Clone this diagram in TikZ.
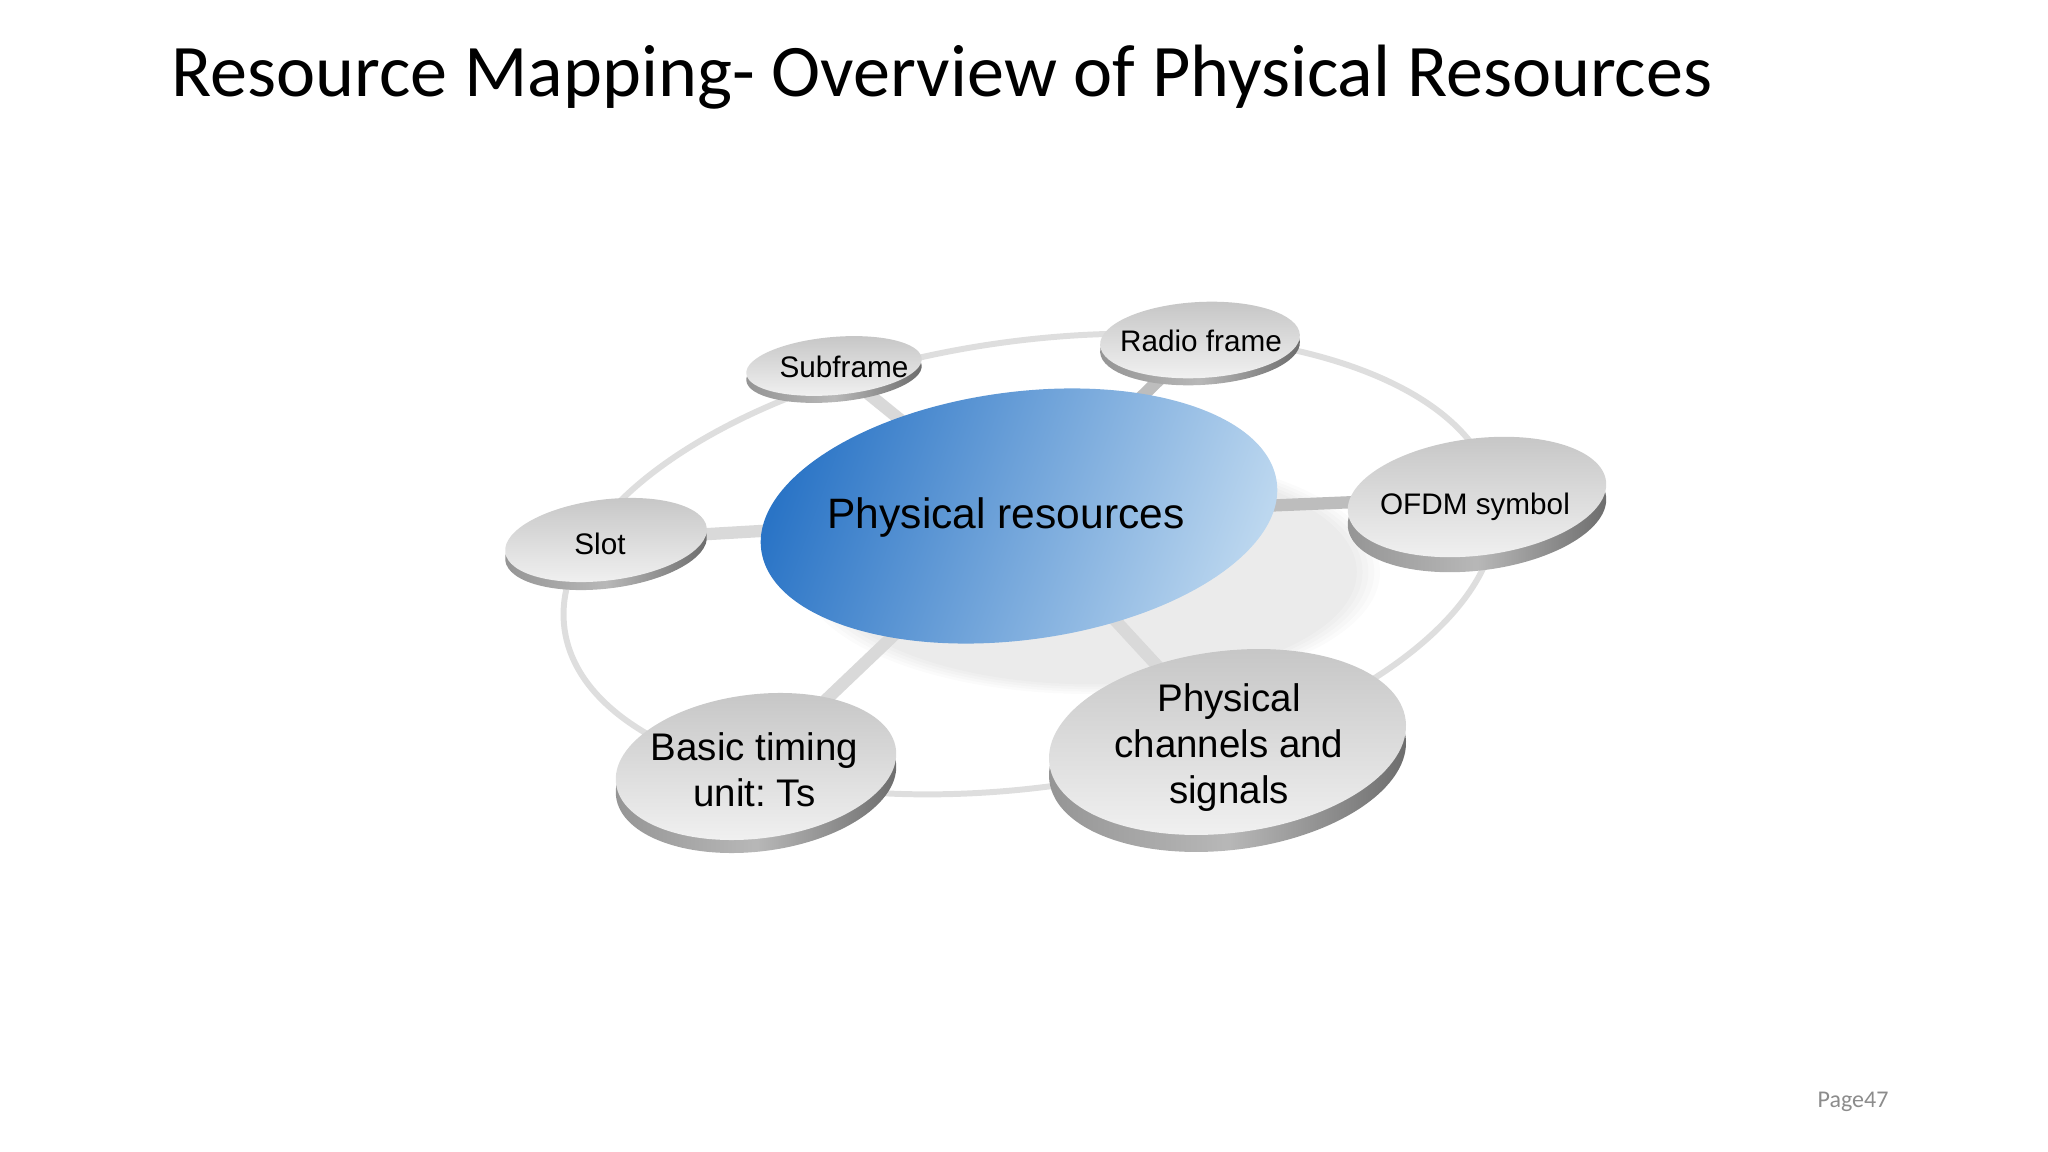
\documentclass[tikz,border=0pt]{standalone}
\usepackage{fontspec}
\setmainfont{Liberation Sans}
\newfontfamily\slidefont{Carlito}
\usetikzlibrary{shapes.geometric,backgrounds}

\definecolor{resdark}{HTML}{2A74C6}
\definecolor{reslight}{HTML}{BCD7EF}

\tikzset{
	face/.style={ellipse, inner sep=0pt, top color=black!23, bottom color=black!5, rotate=#1},
	face/.default=7,
	rim/.style={ellipse, inner sep=0pt, left color=black!42, right color=black!58, middle color=black!28, rotate=#1},
	rim/.default=7,
	smalltext/.style={inner sep=0pt, anchor=base, font=\fontsize{8.45}{10}\selectfont},
	bigtext/.style={inner sep=0pt, align=center, font=\fontsize{10.95}{13.1}\selectfont},
	spoke/.style={line width=3.5pt, draw=black!15},
	darkspoke/.style={line width=3.5pt, draw=black!26},
	ring/.style={line width=1.7pt, draw=black!13}
}

\begin{document}
\frenchspacing
\begin{tikzpicture}

	\useasboundingbox (0,0) rectangle (20.48,-11.52);

	% title and page number
	\node[anchor=base west, inner sep=0pt, font=\slidefont\fontsize{21.1}{25}\selectfont] (title) at (1.71,-0.97) {Resource Mapping- Overview of Physical Resources};
	\node[anchor=base west, inner sep=0pt, text=black!45, font=\slidefont\fontsize{6.83}{8}\selectfont] (page) at (18.17,-11.07) {Page47};

	% centre
	\node[ellipse, inner sep=0pt, minimum width=5.20cm, minimum height=2.48cm, rotate=7.5,
		left color=resdark, right color=reslight, shading angle=70] (res) at (10.19,-5.16) {};
	\node[inner sep=0pt, anchor=base, font=\fontsize{12.1}{14.5}\selectfont] (restext) at (10.06,-5.29) {Physical resources};

	% disks round it
	\node[rim, minimum width=2.03cm, minimum height=0.81cm] (slot-rim) at (6.06,-5.48) {};
	\node[face, minimum width=2.03cm, minimum height=0.81cm] (slot) at (6.06,-5.40) {};
	\node[smalltext] (slot-text) at (6.00,-5.55) {Slot};

	\node[rim=5, minimum width=1.76cm, minimum height=0.58cm] (sub-rim) at (8.34,-3.73) {};
	\node[face=5, minimum width=1.76cm, minimum height=0.58cm] (sub) at (8.34,-3.66) {};
	\node[smalltext] (sub-text) at (8.44,-3.78) {Subframe};

	\node[rim=3, minimum width=2.00cm, minimum height=0.76cm] (radio-rim) at (12.00,-3.47) {};
	\node[face=3, minimum width=2.00cm, minimum height=0.76cm] (radio) at (12.00,-3.40) {};
	\node[smalltext] (radio-text) at (12.01,-3.52) {Radio frame};

	\node[rim, minimum width=2.60cm, minimum height=1.17cm] (ofdm-rim) at (14.77,-5.12) {};
	\node[face, minimum width=2.60cm, minimum height=1.17cm] (ofdm) at (14.77,-4.97) {};
	\node[smalltext] (ofdm-text) at (14.75,-5.15) {OFDM symbol};

	\node[rim, minimum width=2.82cm, minimum height=1.44cm] (basic-rim) at (7.56,-7.795) {};
	\node[face, minimum width=2.82cm, minimum height=1.44cm] (basic) at (7.56,-7.665) {};
	\node[bigtext] (basic-text) at (7.545,-7.695) {Basic timing\\unit: Ts};

	\node[rim, minimum width=3.59cm, minimum height=1.82cm] (chan-rim) at (12.275,-7.59) {};
	\node[face, minimum width=3.59cm, minimum height=1.82cm] (chan) at (12.275,-7.42) {};
	\node[bigtext] (chan-text) at (12.29,-7.48) {Physical\\channels and\\signals};

	\begin{pgfonlayer}{background}
		% soft shadow under the centre
		\foreach \s in {1.00,0.98,0.96,0.94,0.92}
			\fill[black, opacity=0.015] (10.90,-5.72) ellipse [x radius=2.9*\s, y radius=1.22*\s];
		\draw[ring] (10.30,-5.64) ellipse [x radius=4.70, y radius=2.23, rotate=8];
		\draw[spoke] (res.center) -- (slot.center);
		\draw[spoke] (res.center) -- (sub.center);
		\draw[darkspoke] (res.center) -- (radio.center);
		\draw[darkspoke] (res.center) -- (ofdm.center);
		\draw[spoke] (res.center) -- (basic.center);
		\draw[spoke] (res.center) -- (chan.center);
	\end{pgfonlayer}
\end{tikzpicture}
\end{document}
